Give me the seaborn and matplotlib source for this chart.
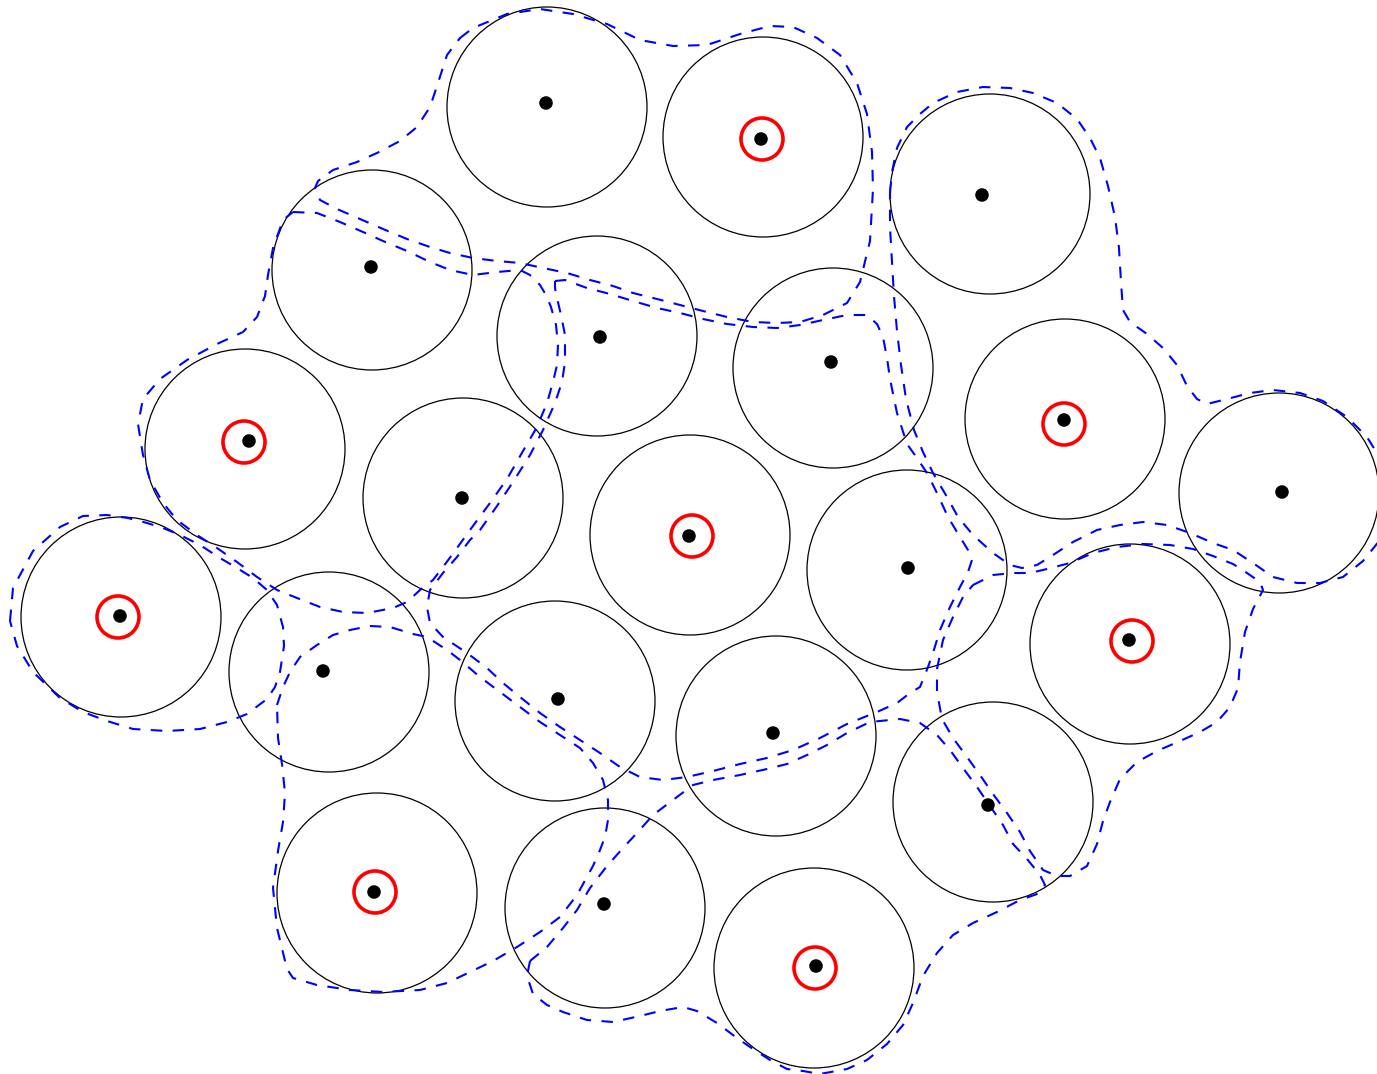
import matplotlib
matplotlib.use("Agg")
import matplotlib.pyplot as plt
from matplotlib.patches import Circle
import numpy as np
import pandas as pd
import seaborn as sns

sns.set_style("white")

# point positions (pixel units, y downwards)
dot_x = [546, 761, 982, 371, 600, 831, 249, 1064, 462, 689, 1282,
         908, 120, 323, 558, 1129, 773, 988, 374, 604, 816]
dot_y = [103, 139, 195, 267, 337, 362, 441, 420, 498, 536, 492,
         568, 616, 671, 699, 640, 733, 805, 892, 904, 966]

# big black circles around each point
ring_x = [547, 763, 990, 372, 597, 833, 245, 1065, 463, 690, 1279,
          907, 121, 329, 555, 1130, 776, 993, 377, 605, 814]
ring_y = [107, 137, 194, 270, 336, 368, 449, 419, 498, 535, 493,
          570, 617, 672, 701, 644, 736, 802, 893, 908, 968]
ring_r = 100

# red markers (medoids)
med_x = [762, 244, 1064, 692, 118, 1132, 375, 815]
med_y = [139, 442, 424, 536, 617, 641, 892, 968]
med_r = 21

# cluster outlines
edge_a = [(460, 38), (473, 28), (507, 14), (540, 9), (573, 14), (607, 24), (640, 40), (673, 46),
          (707, 45), (740, 34), (770, 26), (793, 27), (817, 38), (840, 55), (857, 83), (867, 114),
          (872, 152), (873, 189), (870, 241), (860, 282), (847, 303), (823, 315), (800, 322),
          (777, 323), (753, 322), (727, 317), (703, 311), (680, 305), (657, 299), (633, 293),
          (613, 286), (590, 280), (567, 273), (543, 268), (520, 263), (497, 261), (473, 258),
          (450, 253), (430, 247), (407, 239), (383, 229), (360, 219), (337, 209), (320, 200),
          (315, 188), (318, 181), (333, 170), (357, 162), (377, 153), (400, 141), (417, 127),
          (430, 107), (437, 86), (447, 55), (460, 38)]
edge_b = [(293, 212), (317, 213), (340, 222), (363, 232), (383, 241), (407, 251), (430, 262),
          (450, 270), (473, 275), (497, 272), (520, 270), (530, 275), (540, 285), (546, 295),
          (551, 307), (556, 325), (558, 345), (557, 365), (553, 382), (547, 403), (537, 427),
          (523, 451), (507, 479), (490, 503), (470, 530), (457, 548), (446, 563), (433, 580),
          (420, 590), (407, 602), (393, 608), (367, 613), (343, 612), (320, 607), (297, 598),
          (277, 590), (257, 577), (237, 562), (217, 548), (197, 535), (177, 520), (163, 503),
          (150, 480), (143, 455), (138, 424), (143, 399), (160, 379), (187, 360), (217, 344),
          (243, 332), (257, 317), (265, 296), (268, 275), (273, 248), (283, 220), (293, 212)]
edge_c = [(555, 281), (565, 280), (587, 288), (610, 294), (633, 301), (657, 308), (680, 313),
          (703, 319), (727, 324), (753, 327), (777, 328), (800, 325), (823, 320), (847, 315),
          (867, 315), (877, 324), (883, 337), (887, 358), (890, 379), (897, 413), (907, 444),
          (917, 458), (927, 473), (937, 493), (948, 517), (960, 537), (968, 550), (972, 560),
          (968, 572), (960, 587), (950, 607), (940, 630), (933, 653), (928, 667), (920, 687),
          (910, 693), (897, 703), (877, 712), (847, 724), (820, 738), (793, 750), (767, 758),
          (740, 764), (713, 771), (687, 777), (663, 780), (640, 777), (620, 767), (600, 753),
          (580, 740), (560, 727), (540, 713), (520, 697), (503, 683), (487, 668), (467, 653),
          (443, 637), (430, 623), (427, 607), (430, 590), (443, 573), (457, 557), (470, 540),
          (480, 530), (497, 506), (513, 482), (530, 455), (543, 430), (555, 403), (562, 382),
          (565, 362), (565, 335), (561, 315), (557, 298), (555, 288), (555, 281)]
edge_d = [(890, 193), (892, 172), (897, 148), (907, 127), (920, 114), (933, 103), (957, 92),
          (983, 87), (1010, 88), (1033, 93), (1057, 103), (1077, 119), (1090, 138), (1100, 158),
          (1108, 186), (1115, 217), (1119, 248), (1121, 282), (1123, 310), (1130, 322),
          (1147, 334), (1163, 348), (1177, 365), (1187, 386), (1197, 399), (1207, 404),
          (1227, 399), (1250, 393), (1273, 390), (1300, 393), (1323, 401), (1347, 417),
          (1367, 437), (1380, 458), (1392, 500), (1380, 540), (1363, 561), (1343, 577),
          (1320, 583), (1297, 583), (1273, 577), (1253, 563), (1233, 550), (1213, 543),
          (1190, 533), (1167, 525), (1143, 522), (1120, 525), (1097, 530), (1073, 542),
          (1053, 555), (1037, 565), (1022, 568), (1010, 565), (993, 553), (973, 535), (958, 517),
          (947, 497), (933, 473), (923, 452), (914, 430), (906, 399), (901, 365), (897, 331),
          (894, 296), (892, 262), (890, 227), (890, 193)]
edge_e = [(10, 621), (13, 588), (33, 551), (60, 527), (83, 516), (107, 515), (128, 518),
          (147, 523), (163, 528), (180, 535), (200, 545), (220, 558), (237, 568), (253, 578),
          (267, 590), (277, 605), (283, 627), (284, 646), (280, 672), (275, 687), (267, 699),
          (247, 714), (227, 722), (200, 729), (167, 731), (133, 729), (107, 721), (83, 712),
          (60, 698), (33, 672), (17, 646), (10, 621)]
edge_f = [(277, 705), (283, 687), (290, 672), (300, 657), (317, 645), (333, 635), (350, 630),
          (370, 626), (390, 627), (413, 634), (427, 637), (447, 650), (460, 660), (480, 677),
          (500, 692), (520, 707), (540, 722), (560, 735), (580, 748), (593, 763), (603, 780),
          (608, 800), (608, 820), (605, 837), (600, 850), (593, 866), (577, 895), (560, 917),
          (540, 932), (517, 947), (493, 961), (470, 972), (447, 983), (420, 990), (383, 992),
          (350, 990), (317, 985), (293, 978), (287, 969), (277, 928), (273, 888), (278, 851),
          (283, 822), (285, 793), (282, 764), (278, 738), (277, 705)]
edge_g = [(973, 585), (993, 575), (1013, 573), (1030, 573), (1047, 569), (1070, 563),
          (1093, 553), (1117, 547), (1143, 544), (1170, 545), (1193, 549), (1213, 556),
          (1233, 564), (1247, 573), (1260, 582), (1263, 590), (1253, 609), (1245, 632),
          (1240, 662), (1238, 688), (1230, 707), (1217, 722), (1200, 732), (1180, 741),
          (1157, 751), (1137, 762), (1120, 779), (1110, 802), (1103, 821), (1097, 844),
          (1087, 866), (1070, 876), (1057, 876), (1043, 870), (1030, 851), (1020, 832),
          (1007, 813), (993, 794), (980, 775), (967, 757), (953, 738), (942, 719), (937, 692),
          (937, 669), (943, 640), (953, 617), (963, 597), (973, 585)]
edge_h = [(530, 961), (547, 947), (563, 928), (577, 910), (590, 888), (607, 866), (623, 848),
          (637, 833), (653, 815), (673, 800), (693, 785), (713, 780), (740, 775), (767, 769),
          (787, 764), (807, 755), (827, 745), (847, 733), (870, 722), (900, 719), (920, 723),
          (937, 735), (950, 750), (963, 768), (977, 787), (990, 806), (1003, 825), (1013, 844),
          (1027, 859), (1040, 875), (1045, 885), (1040, 893), (1020, 900), (997, 912), (973, 923),
          (953, 935), (937, 953), (923, 976), (913, 1003), (903, 1025), (887, 1044), (867, 1060),
          (847, 1069), (820, 1074), (803, 1071), (787, 1069), (770, 1060), (753, 1049),
          (737, 1038), (717, 1023), (697, 1011), (683, 1007), (660, 1011), (640, 1016),
          (613, 1022), (587, 1020), (563, 1012), (547, 1005), (533, 994), (527, 976), (530, 961)]

edges = [edge_a, edge_b, edge_c, edge_d, edge_e, edge_f, edge_g, edge_h]

W, H = 1377, 1074
fig = plt.figure(figsize=(W / 100, H / 100), dpi=100)
ax = fig.add_axes([0, 0, 1, 1])

# big circles
for cx, cy in zip(ring_x, ring_y):
    ax.add_patch(Circle((cx, cy), ring_r, fill=False, edgecolor="black", linewidth=0.9, zorder=1))

# dashed outlines
for e in edges:
    ex = [p[0] for p in e]
    ey = [p[1] for p in e]
    ax.plot(ex, ey, color="blue", linewidth=1.5, linestyle=(0, (5.5, 5)), zorder=2)

# points
pts = pd.DataFrame({"x": dot_x, "y": dot_y})
sns.scatterplot(data=pts, x="x", y="y", color="black", s=95, edgecolor="none",
                legend=False, ax=ax, zorder=3)

# red rings on medoids
for mx, my in zip(med_x, med_y):
    ax.add_patch(Circle((mx, my), med_r, fill=False, edgecolor="red", linewidth=2.6, zorder=4))

ax.set_xlim(0, W)
ax.set_ylim(H, 0)
ax.set_aspect("equal")
ax.axis("off")

fig.savefig("out.png", dpi=100, facecolor="white")
